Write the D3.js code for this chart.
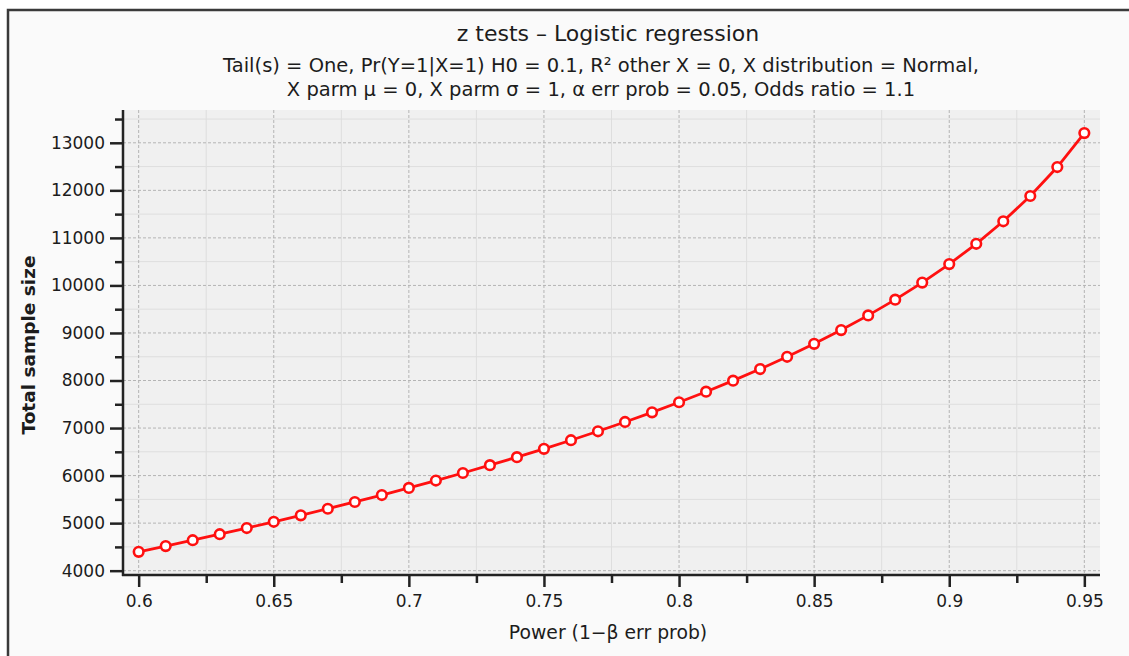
<!DOCTYPE html>
<html>
<head>
<meta charset="utf-8">
<script src="https://cdn.jsdelivr.net/npm/d3@7"></script>
<style>
  body { margin: 0; background: #ffffff; }
  text { font-family: "DejaVu Sans", sans-serif; fill: #1c1c1c; }
</style>
</head>
<body>
<div id="chart"></div>
<script>
// power values (x) and total sample size
var power = [0.60, 0.61, 0.62, 0.63, 0.64, 0.65, 0.66, 0.67, 0.68, 0.69,
             0.70, 0.71, 0.72, 0.73, 0.74, 0.75, 0.76, 0.77, 0.78, 0.79,
             0.80, 0.81, 0.82, 0.83, 0.84, 0.85, 0.86, 0.87, 0.88, 0.89,
             0.90, 0.91, 0.92, 0.93, 0.94, 0.95];
var sampleSize = [4396, 4517, 4641, 4767, 4897, 5028, 5164, 5303, 5445, 5591,
                  5741, 5896, 6054, 6219, 6388, 6563, 6744, 6932, 7128, 7331,
                  7543, 7765, 7997, 8241, 8499, 8771, 9061, 9370, 9701, 10059,
                  10449, 10876, 11349, 11881, 12490, 13204];

var xTicks = [0.6, 0.65, 0.7, 0.75, 0.8, 0.85, 0.9, 0.95];
var xMinor = [0.625, 0.675, 0.725, 0.775, 0.825, 0.875, 0.925];
var yTicks = [4000, 5000, 6000, 7000, 8000, 9000, 10000, 11000, 12000, 13000];
var yMinor = [4500, 5500, 6500, 7500, 8500, 9500, 10500, 11500, 12500, 13500];

var title = "z tests \u2013 Logistic regression";
var subtitle = ["Tail(s) = One, Pr(Y=1|X=1) H0 = 0.1, R\u00b2 other X = 0, X distribution = Normal,",
                "X parm \u03bc = 0, X parm \u03c3 = 1, \u03b1 err prob = 0.05, Odds ratio = 1.1"];
var xLabel = "Power (1\u2212\u03b2 err prob)";
var yLabel = "Total sample size";

var W = 1129, H = 656;
var plot = {left: 123, right: 1100, top: 110, bottom: 574};

var svg = d3.select("#chart").append("svg")
    .attr("width", W)
    .attr("height", H);

// outer frame (only left/top edges visible)
svg.append("rect")
    .attr("x", 8).attr("y", 10)
    .attr("width", W + 20).attr("height", H + 20)
    .attr("fill", "#fafafa")
    .attr("stroke", "#3a3a3a")
    .attr("stroke-width", 2.5);

var x = d3.scaleLinear().domain([0.5942, 0.9558]).range([plot.left, plot.right]);
var y = d3.scaleLinear().domain([3930, 13690]).range([plot.bottom, plot.top]);

// plot background
svg.append("rect")
    .attr("x", plot.left).attr("y", plot.top)
    .attr("width", plot.right - plot.left)
    .attr("height", plot.bottom - plot.top)
    .attr("fill", "#f0f0f0");

// minor grid
var grid = svg.append("g");
grid.selectAll(".vminor").data(xMinor).join("line")
    .attr("x1", d => x(d)).attr("x2", d => x(d))
    .attr("y1", plot.top).attr("y2", plot.bottom)
    .attr("stroke", "#dedede").attr("stroke-width", 1);
grid.selectAll(".hminor").data(yMinor).join("line")
    .attr("x1", plot.left).attr("x2", plot.right)
    .attr("y1", d => y(d)).attr("y2", d => y(d))
    .attr("stroke", "#dedede").attr("stroke-width", 1);
// major grid (dashed)
grid.selectAll(".vmajor").data(xTicks).join("line")
    .attr("x1", d => x(d)).attr("x2", d => x(d))
    .attr("y1", plot.top).attr("y2", plot.bottom)
    .attr("stroke", "#b4b4b4").attr("stroke-width", 1)
    .attr("stroke-dasharray", "3,2");
grid.selectAll(".hmajor").data(yTicks).join("line")
    .attr("x1", plot.left).attr("x2", plot.right)
    .attr("y1", d => y(d)).attr("y2", d => y(d))
    .attr("stroke", "#b4b4b4").attr("stroke-width", 1)
    .attr("stroke-dasharray", "3,2");

// x axis
var xAxis = svg.append("g")
    .attr("transform", `translate(0,${plot.bottom + 1})`)
    .call(d3.axisBottom(x).tickValues(xTicks).tickSize(12).tickPadding(8)
          .tickFormat(d3.format("~g")));
xAxis.append("g")
    .call(d3.axisBottom(x).tickValues(xMinor).tickSize(8).tickFormat(""));
xAxis.selectAll(".domain").remove();
xAxis.append("line")
    .attr("x1", plot.left - 1).attr("x2", plot.right)
    .attr("stroke", "#222").attr("stroke-width", 2.5);

// y axis
var yAxis = svg.append("g")
    .attr("transform", `translate(${plot.left},0)`)
    .call(d3.axisLeft(y).tickValues(yTicks).tickSize(13).tickPadding(5)
          .tickFormat(d3.format("d")));
yAxis.append("g")
    .call(d3.axisLeft(y).tickValues(yMinor).tickSize(8).tickFormat(""));
yAxis.selectAll(".domain").remove();
yAxis.append("line")
    .attr("y1", plot.top).attr("y2", plot.bottom + 2)
    .attr("stroke", "#222").attr("stroke-width", 2.5);

svg.selectAll(".tick line").attr("stroke", "#222").attr("stroke-width", 2.5);
svg.selectAll(".tick text")
    .style("font-family", "'DejaVu Sans', sans-serif")
    .style("font-size", "17px")
    .attr("fill", "#1c1c1c");

// line + markers
var line = d3.line()
    .x((d, i) => x(power[i]))
    .y(d => y(d));

svg.append("path")
    .datum(sampleSize)
    .attr("d", line)
    .attr("fill", "none")
    .attr("stroke", "#ff1010")
    .attr("stroke-width", 2.8);

svg.append("g").selectAll("circle")
    .data(sampleSize)
    .join("circle")
    .attr("cx", (d, i) => x(power[i]))
    .attr("cy", d => y(d))
    .attr("r", 4.8)
    .attr("fill", "#ffffff")
    .attr("stroke", "#ff1010")
    .attr("stroke-width", 2.6);

// titles
svg.append("text")
    .attr("x", 608).attr("y", 41)
    .attr("text-anchor", "middle")
    .style("font-size", "22px")
    .text(title);

svg.selectAll(".sub").data(subtitle).join("text")
    .attr("x", 601)
    .attr("y", (d, i) => 72 + i * 24)
    .attr("text-anchor", "middle")
    .style("font-size", "19.5px")
    .text(d => d);

svg.append("text")
    .attr("x", 608).attr("y", 639)
    .attr("text-anchor", "middle")
    .style("font-size", "18.8px")
    .text(xLabel);

svg.append("text")
    .attr("transform", "translate(35,345) rotate(-90)")
    .attr("text-anchor", "middle")
    .style("font-size", "18.5px")
    .style("font-weight", "bold")
    .text(yLabel);
</script>
</body>
</html>
